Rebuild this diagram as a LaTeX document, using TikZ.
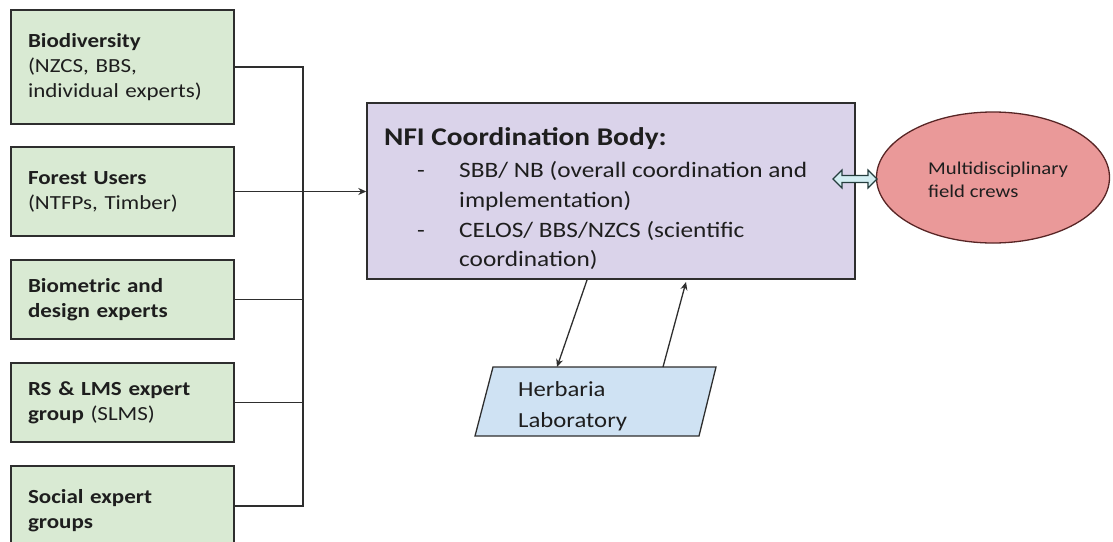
\documentclass[tikz,border=0pt]{standalone}
\usepackage{fontspec}
\setmainfont[FakeStretch=1.15]{Carlito}
\usetikzlibrary{arrows.meta,shapes.geometric}
\definecolor{gfill}{HTML}{D9EAD3}
\definecolor{pfill}{HTML}{DAD3EA}
\definecolor{bfill}{HTML}{CFE2F3}
\definecolor{rfill}{HTML}{EA9999}
\definecolor{edge}{HTML}{2E2E2E}
\definecolor{txt}{HTML}{1E1E1E}
\definecolor{afill}{HTML}{D3EEF2}
\begin{document}
\begin{tikzpicture}[x=1pt,y=-1pt,
  gbox/.style={draw=edge,line width=1.6pt,fill=gfill,text width=189pt,inner xsep=17pt,inner ysep=0pt,
    align=left,font=\fontsize{20}{25}\selectfont,text=txt,minimum height=#1},
  pbox/.style={draw=edge,line width=1.4pt,fill=pfill,minimum width=488pt,minimum height=176pt,inner sep=0pt},
  crewshape/.style={ellipse,draw=edge!80!red,line width=1.3pt,fill=rfill,minimum width=233pt,minimum height=131pt,inner sep=0pt},
  herbshape/.style={draw=edge,line width=1.3pt,fill=bfill},
  lbl/.style={anchor=base west,inner sep=0pt,text=txt},
  body/.style={lbl,font=\fontsize{22}{30}\selectfont},
  conn/.style={draw=edge,line width=1.6pt},
  tip/.style={-{Stealth[length=8pt,width=7pt]}},
  darrow/.style={draw=edge!80!teal,line width=1.2pt,fill=afill,line join=miter}
]
\useasboundingbox (0,0) rectangle (1113,541);
\clip (0,0) rectangle (1113,541);

% left boxes
\node[gbox=114pt] (b1) at (122.5,67) {\textbf{Biodiversity}\\(NZCS, BBS,\\individual experts)};
\node[gbox=89pt] (b2) at (122.5,191.5) {\textbf{Forest Users}\\(NTFPs, Timber)};
\node[gbox=79pt] (b3) at (122.5,299.5) {\textbf{Biometric and}\\\textbf{design experts}};
\node[gbox=79pt] (b4) at (122.5,402.5) {\textbf{RS \& LMS expert}\\\textbf{group} (SLMS)};
\node[gbox=90pt] (b5) at (122.5,511) {\textbf{Social expert}\\\textbf{groups}};

% coordination body
\node[pbox] (nfi) at (611,191) {};
\node[lbl,font=\bfseries\fontsize{25.5}{30}\selectfont] (nfiT) at (384,145) {NFI Coordination Body:};
\node[body] (dashA) at (417,177) {-};
\node[body] (nfiA1) at (459,177) {SBB/ NB (overall coordination and};
\node[body] (nfiA2) at (459,207) {implementation)};
\node[body] (dashB) at (417,237) {-};
\node[body] (nfiB1) at (459,237) {CELOS/ BBS/NZCS (scientific};
\node[body] (nfiB2) at (459,266) {coordination)};

% field crews
\node[crewshape] (crew) at (993,177.5) {};
\node[lbl,font=\fontsize{18}{23}\selectfont] (crew1) at (928,174) {Multidisciplinary};
\node[lbl,font=\fontsize{18}{23}\selectfont] (crew2) at (928,197) {field crews};

% herbaria
\draw[herbshape] (493,367) -- (716,367) -- (699,436) -- (475,436) -- cycle;
\node[lbl,font=\fontsize{21.5}{31}\selectfont] (herb1) at (518,396) {Herbaria};
\node[lbl,font=\fontsize{21.5}{31}\selectfont] (herb2) at (518,427) {Laboratory};

% bus connectors
\coordinate (j1) at (303,67);
\coordinate (j5) at (303,506);
\draw[conn] (b1.east) -- (j1) -- (j5) -- (b5.east |- j5);
\draw[conn] (b3.east) -- (b3.east -| j1);
\draw[conn] (b4.east) -- (b4.east -| j1);
\draw[conn,tip] (b2.east) -- (b2.east -| nfi.west);

% herbaria connectors
\coordinate (nfiout) at (587,280);
\coordinate (herbin) at (557,367);
\coordinate (herbout) at (663,367);
\coordinate (nfiin) at (686,282);
\draw[conn,line width=1.3pt,tip] (nfiout) -- (herbin);
\draw[conn,line width=1.3pt,tip] (herbout) -- (nfiin);

% double block arrow between body and crews
\draw[darrow] (833,179) -- (842,170) -- (842,175.5) -- (868,175.5) -- (868,170) -- (877,179)
  -- (868,188) -- (868,182.5) -- (842,182.5) -- (842,188) -- cycle;
\end{tikzpicture}
\end{document}
